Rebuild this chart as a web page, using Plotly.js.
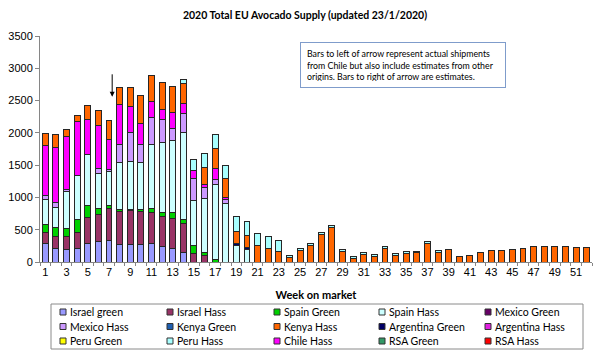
<!DOCTYPE html>
<html><head><meta charset="utf-8">
<script src="https://cdn.plot.ly/plotly-3.0.1.min.js"></script>
<style>html,body{margin:0;padding:0;background:#fff}#chart{width:600px;height:359px}</style>
</head><body><div id="chart"></div>
<script>
const weeks = [1,2,3,4,5,6,7,8,9,10,11,12,13,14,15,16,17,18,19,20,21,22,23,24,25,26,27,28,29,30,31,32,33,34,35,36,37,38,39,40,41,42,43,44,45,46,47,48,49,50,51,52];
const weekTickVals = [1,3,5,7,9,11,13,15,17,19,21,23,25,27,29,31,33,35,37,39,41,43,45,47,49,51];
const weekTickText = ["1","3","5","7","9","11","13","15","17","19","21","23","25","27","29","31","33","35","37","39","41","43","45","47","49","51"];
const yTickVals = [0,500,1000,1500,2000,2500,3000,3500];

const israelGreen = [288,216,195,211,283,324,340,267,267,267,283,247,216,149,0,0,0,0,0,0,0,0,0,0,0,0,0,0,0,0,0,0,0,0,0,0,0,0,0,0,0,0,0,0,0,0,0,0,0,0,0,0];
const israelHass = [170,180,201,242,411,411,494,514,524,509,489,453,453,453,134,103,0,0,0,0,0,0,0,0,0,0,0,0,0,0,0,0,0,0,0,0,0,0,0,0,0,0,0,0,0,0,0,0,0,0,0,0];
const spainGreen = [129,134,123,211,185,98,46,36,21,41,62,72,103,62,118,46,36,0,0,0,0,0,0,0,0,0,0,0,0,0,0,0,0,0,0,0,0,0,0,0,0,0,0,0,0,0,0,0,0,0,0,0];
const spainHass = [381,319,566,669,792,530,520,720,741,725,983,1075,1106,1348,694,839,1167,911,252,195,0,0,0,0,0,0,0,0,0,0,0,0,0,0,0,0,0,0,0,0,0,0,0,0,0,0,0,0,0,0,0,0];
const mexicoGreen = [0,0,0,0,0,0,0,0,0,0,0,0,0,0,0,0,0,0,0,0,0,0,0,0,0,0,0,0,0,0,0,0,0,0,0,0,0,0,0,0,0,0,0,0,0,0,0,0,0,0,0,0];
const mexicoHass = [57,72,41,0,0,82,26,283,453,285,417,360,185,288,340,170,82,51,0,0,0,0,0,0,0,0,0,0,0,0,0,0,0,0,0,0,0,0,0,0,0,0,0,0,0,0,0,0,0,0,0,0];
const argentinaHass = [0,0,0,0,0,0,0,0,0,0,0,0,0,0,0,0,0,0,0,0,0,0,0,0,0,0,0,0,0,0,0,0,0,0,0,0,0,0,0,0,0,0,0,0,0,0,0,0,0,0,0,0];
const chileHass = [777,854,813,849,535,664,478,622,401,320,247,160,247,149,124,41,165,41,0,0,0,0,0,0,0,0,0,0,0,0,0,0,0,0,0,0,0,0,0,0,0,0,0,0,0,0,0,0,0,0,0,0];
const kenyaGreen = [0,0,0,0,0,0,0,0,0,0,0,0,0,0,0,0,0,0,0,0,0,0,0,0,0,0,0,0,0,0,0,0,0,0,0,0,0,0,0,0,0,0,0,0,0,0,0,0,0,0,0,0];
const argentinaGreen = [0,0,0,0,0,0,0,0,0,0,0,0,0,0,0,0,0,0,31,26,0,0,0,0,0,0,0,0,0,0,0,0,0,0,0,0,0,0,0,0,0,0,0,0,0,0,0,0,0,0,0,0];
const kenyaHass = [190,206,118,87,221,242,288,267,293,430,412,406,401,314,0,267,309,288,190,195,252,211,170,77,180,252,427,537,165,62,116,90,208,100,135,140,280,150,187,82,108,141,172,172,198,216,234,236,247,238,231,231];
const peruGreen = [0,0,0,0,0,0,0,0,0,0,0,0,0,0,0,0,0,0,0,0,0,0,0,0,0,0,0,0,0,0,0,0,0,0,0,0,0,0,0,0,0,0,0,0,0,0,0,0,0,0,0,0];
const peruHass = [0,0,0,0,0,0,0,0,0,0,0,0,0,62,185,211,211,211,226,211,190,180,170,26,30,30,30,30,27,27,28,28,30,25,35,30,30,32,0,0,0,0,0,0,0,0,0,0,0,0,0,0];
const rsaGreen = [0,0,0,0,0,0,0,0,0,0,0,0,0,0,0,0,0,0,0,0,0,0,0,0,0,0,0,0,0,0,0,0,0,0,0,0,0,0,0,0,0,0,0,0,0,0,0,0,0,0,0,0];
const rsaHass = [0,0,0,0,0,0,0,0,0,0,0,0,0,0,0,0,0,0,0,0,0,0,0,0,0,0,0,0,0,0,0,0,0,0,0,0,0,0,0,0,0,0,0,0,0,0,0,0,0,0,0,0];

const legendNames = ["Israel green","Israel Hass","Spain Green","Spain Hass","Mexico Green",
  "Mexico Hass","Kenya Green","Kenya Hass","Argentina Green","Argentina Hass",
  "Peru Green","Peru Hass","Chile Hass","RSA Green","RSA Hass"];

// stacking order bottom -> top
const series = [
  {name:"Israel green", y:israelGreen, color:"#9999FF"},
  {name:"Israel Hass", y:israelHass, color:"#993366"},
  {name:"Spain Green", y:spainGreen, color:"#00D000"},
  {name:"Spain Hass", y:spainHass, color:"#CCFFFF"},
  {name:"Mexico Green", y:mexicoGreen, color:"#660066"},
  {name:"Mexico Hass", y:mexicoHass, color:"#CC99FF"},
  {name:"Argentina Hass", y:argentinaHass, color:"#E020E0"},
  {name:"Chile Hass", y:chileHass, color:"#FF00FF"},
  {name:"Kenya Green", y:kenyaGreen, color:"#1F5FB0"},
  {name:"Argentina Green", y:argentinaGreen, color:"#000066"},
  {name:"Kenya Hass", y:kenyaHass, color:"#FF6600"},
  {name:"Peru Green", y:peruGreen, color:"#FFFF00"},
  {name:"Peru Hass", y:peruHass, color:"#A8FFFF"},
  {name:"RSA Green", y:rsaGreen, color:"#339966"},
  {name:"RSA Hass", y:rsaHass, color:"#FF0000"}
];

const traces = series.map(s => ({
  type:"bar", name:s.name, x:weeks, y:s.y,
  marker:{color:s.color, line:{color:"#262626", width:1}},
  showlegend:false, hovertemplate:s.name+": %{y}<extra></extra>"
}));

const L=40, R=592, T=36, B=262;
const fx = p => (p-L)/(R-L);
const fy = p => (B-p)/(B-T);

const shapes = [];
const annotations = [];
// legend frame
shapes.push({type:"rect", xref:"paper", yref:"paper", x0:fx(51), x1:fx(583), y0:fy(304), y1:fy(349),
  line:{color:"#8a8a8a", width:1}, fillcolor:"rgba(0,0,0,0)"});
const colX = [63,170,277,382,488];
const rowY = [312,326.5,341];
const colorOf = {};
series.forEach(s => colorOf[s.name] = s.color);
legendNames.forEach((n,i) => {
  const cx = colX[i%5], cy = rowY[Math.floor(i/5)];
  shapes.push({type:"rect", xref:"paper", yref:"paper", x0:fx(cx-3), x1:fx(cx+3), y0:fy(cy+3), y1:fy(cy-3),
    fillcolor:colorOf[n], line:{color:"#333", width:1}});
  annotations.push({xref:"paper", yref:"paper", x:fx(cx+5), y:fy(cy), xanchor:"left", yanchor:"middle",
    text:n, showarrow:false, font:{family:"Lato", size:10.5, color:"#000"}});
});

// arrow marking actual vs estimates
annotations.push({x:7.3, y:2560, ax:7.3, ay:2930, xref:"x", yref:"y", axref:"x", ayref:"y",
  text:"", showarrow:true, arrowhead:2, arrowsize:1, arrowwidth:1, arrowcolor:"#000"});
// note box
annotations.push({xref:"paper", yref:"paper", x:fx(300), y:fy(42), xanchor:"left", yanchor:"top",
  text:"Bars to left of arrow represent actual shipments<br>from Chile but also include estimates from other<br>origins. Bars to right of arrow are estimates.",
  align:"left", showarrow:false, bordercolor:"#7f9ccb", borderwidth:1, borderpad:6, width:192, height:32,
  font:{family:"Lato", size:8.8, color:"#000"}});

const layout = {
  width:600, height:359,
  margin:{l:L, r:600-R, t:T, b:359-B},
  paper_bgcolor:"#fff", plot_bgcolor:"#fff",
  barmode:"stack", bargap:0.44,
  title:{text:"<b>2020 Total EU Avocado Supply (updated 23/1/2020)</b>", font:{family:"Lato", size:10.5, color:"#000"},
    xref:"container", yref:"container", x:305/600, y:1-15/359, xanchor:"center", yanchor:"middle"},
  xaxis:{range:[0.5,52.5], tickvals:weekTickVals, ticktext:weekTickText, ticks:"", showgrid:false, zeroline:false,
    showline:true, linecolor:"#868686", linewidth:1,
    minor:{tick0:0.5, dtick:1, ticks:"outside", ticklen:3, tickcolor:"#868686", showgrid:false},
    tickfont:{family:"Liberation Sans", size:11, color:"#000"},
    title:{text:"<b>Week on market</b>", font:{family:"Lato", size:11, color:"#000"}, standoff:14}},
  yaxis:{range:[0,3500], tickvals:yTickVals, ticks:"outside", ticklen:4, tickcolor:"#868686", showgrid:false, zeroline:false,
    showline:true, linecolor:"#868686", linewidth:1,
    tickfont:{family:"Liberation Sans", size:11, color:"#000"}},
  shapes:shapes, annotations:annotations, showlegend:false
};
Plotly.newPlot("chart", traces, layout, {displayModeBar:false, staticPlot:true});
</script></body></html>
